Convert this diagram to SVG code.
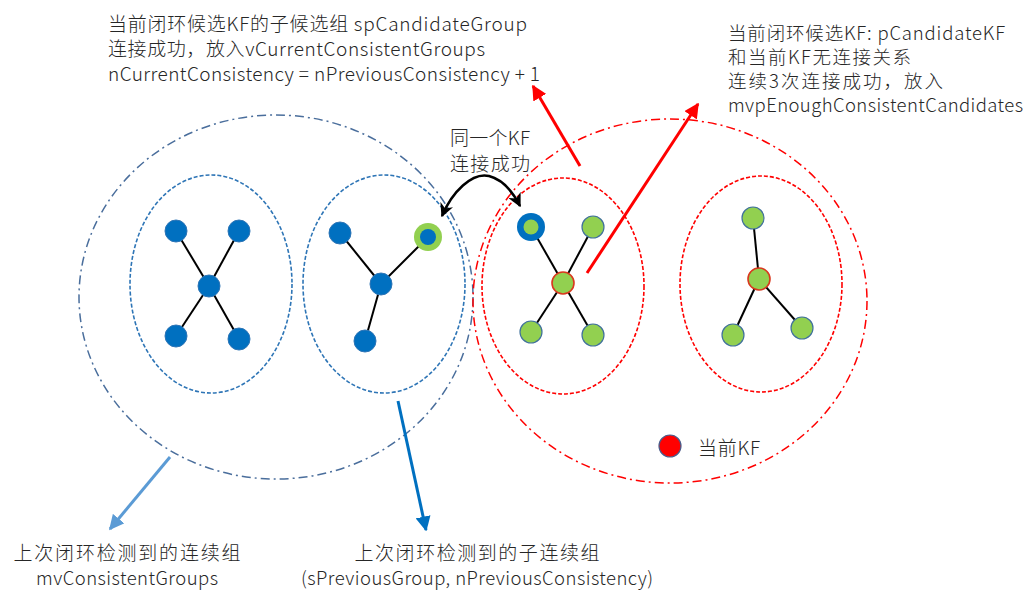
<svg xmlns="http://www.w3.org/2000/svg" width="1034" height="598" viewBox="0 0 1034 598">
<defs>
<style>
.t{font-family:"Noto Sans CJK SC","Noto Sans",sans-serif;fill:#262626;font-weight:300;}
.big{fill:none;stroke-width:1.5;stroke-dasharray:9 4 2 4;}
.inner{fill:none;stroke-width:1.6;stroke-dasharray:4 2;}
.edge{stroke:#000;stroke-width:2;}
.bn{fill:#0070C0;stroke:#2E75B6;stroke-width:1;}
.gn{fill:#92D050;stroke:#41719C;stroke-width:1.2;}
.cn{fill:#92D050;stroke:#D9381E;stroke-width:1.6;}
</style>
<marker id="ar" viewBox="0 0 10 10" refX="9" refY="5" markerWidth="5" markerHeight="5" orient="auto" markerUnits="strokeWidth"><path d="M0,0 L10,5 L0,10 z" fill="#FF0000"/></marker>
<marker id="ab" viewBox="0 0 10 10" refX="9" refY="5" markerWidth="5" markerHeight="5" orient="auto" markerUnits="strokeWidth"><path d="M0,0 L10,5 L0,10 z" fill="#0070C0"/></marker>
<marker id="alb" viewBox="0 0 10 10" refX="9" refY="5" markerWidth="5" markerHeight="5" orient="auto" markerUnits="strokeWidth"><path d="M0,0 L10,5 L0,10 z" fill="#5B9BD5"/></marker>
<marker id="ak" viewBox="0 0 10 10" refX="9" refY="5" markerWidth="5.5" markerHeight="5.5" orient="auto-start-reverse" markerUnits="strokeWidth"><path d="M0,0 L10,5 L0,10 L3,5 z" fill="#000"/></marker>
</defs>
<rect width="1034" height="598" fill="#fff"/>

<g id="groups">
<ellipse id="prev-groups" class="big" cx="276" cy="297" rx="197" ry="182" stroke="#4A6E9C"/>
<ellipse id="cand-groups" class="big" cx="670" cy="301" rx="197" ry="182" stroke="#FF0000"/>
<ellipse id="sub1" class="inner" cx="211" cy="284" rx="81" ry="109" stroke="#2E75B6"/>
<ellipse id="sub2" class="inner" cx="384" cy="284" rx="81" ry="109" stroke="#2E75B6"/>
<ellipse id="sub3" class="inner" cx="563" cy="286" rx="81" ry="108" stroke="#FF0000"/>
<ellipse id="sub4" class="inner" cx="761" cy="284" rx="81" ry="108" stroke="#FF0000"/>
</g>

<g id="edges">
<line class="edge" x1="209" y1="286" x2="176" y2="231"/>
<line class="edge" x1="209" y1="286" x2="239" y2="231"/>
<line class="edge" x1="209" y1="286" x2="176" y2="336"/>
<line class="edge" x1="209" y1="286" x2="239" y2="339"/>
<line class="edge" x1="381" y1="284" x2="340" y2="233"/>
<line class="edge" x1="381" y1="284" x2="428" y2="237"/>
<line class="edge" x1="381" y1="284" x2="365" y2="341"/>
<line class="edge" x1="563" y1="283" x2="531" y2="227"/>
<line class="edge" x1="563" y1="283" x2="593" y2="227"/>
<line class="edge" x1="563" y1="283" x2="531" y2="332"/>
<line class="edge" x1="563" y1="283" x2="593" y2="335"/>
<line class="edge" x1="759" y1="279" x2="753" y2="218"/>
<line class="edge" x1="759" y1="279" x2="733" y2="335"/>
<line class="edge" x1="759" y1="279" x2="802" y2="328"/>
</g>

<g id="group1">
<circle class="bn" cx="176" cy="231" r="11"/>
<circle class="bn" cx="239" cy="231" r="11"/>
<circle class="bn" cx="209" cy="286" r="11"/>
<circle class="bn" cx="176" cy="336" r="11"/>
<circle class="bn" cx="239" cy="339" r="11"/>
</g>
<g id="group2">
<circle class="bn" cx="340" cy="233" r="11"/>
<circle cx="428" cy="237" r="14" fill="#92D050"/>
<circle cx="428" cy="237" r="8" fill="#0070C0"/>
<circle class="bn" cx="381" cy="284" r="11"/>
<circle class="bn" cx="365" cy="341" r="11"/>
</g>
<g id="group3">
<circle cx="531" cy="227" r="14" fill="#0070C0"/>
<circle cx="531" cy="227" r="7.5" fill="#92D050"/>
<circle class="gn" cx="593" cy="227" r="11"/>
<circle class="cn" cx="563" cy="283" r="11"/>
<circle class="gn" cx="531" cy="332" r="11"/>
<circle class="gn" cx="593" cy="335" r="11"/>
</g>
<g id="group4">
<circle class="gn" cx="753" cy="218" r="11"/>
<circle class="cn" cx="759" cy="279" r="11"/>
<circle class="gn" cx="733" cy="335" r="11"/>
<circle class="gn" cx="802" cy="328" r="11"/>
</g>

<g id="connectors" fill="none">
<line x1="580" y1="166" x2="533" y2="86" stroke="#FF0000" stroke-width="3" marker-end="url(#ar)"/>
<line x1="587" y1="273" x2="698" y2="104" stroke="#FF0000" stroke-width="3" marker-end="url(#ar)"/>
<line x1="398" y1="401" x2="426" y2="530" stroke="#0070C0" stroke-width="3" marker-end="url(#ab)"/>
<line x1="170" y1="457" x2="110" y2="529" stroke="#5B9BD5" stroke-width="3" marker-end="url(#alb)"/>
<path d="M442,216 C452,192 472,172 489,176 C504,180 514,194 520,206" stroke="#000" stroke-width="2.5" marker-start="url(#ak)" marker-end="url(#ak)"/>
</g>

<g id="legend">
<circle cx="670" cy="446" r="11" fill="#FF0000" stroke="#4A5D8C" stroke-width="1.2"/>
<text class="t" x="698" y="455" font-size="19" textLength="62">当前KF</text>
</g>

<g id="labels">
<text class="t" x="108" y="31" font-size="19" textLength="419">当前闭环候选KF的子候选组 spCandidateGroup</text>
<text class="t" x="108" y="56" font-size="19" textLength="377">连接成功，放入vCurrentConsistentGroups</text>
<text class="t" x="108" y="81" font-size="19" textLength="432">nCurrentConsistency = nPreviousConsistency + 1</text>
<text class="t" x="728" y="40" font-size="18.5" textLength="277">当前闭环候选KF: pCandidateKF</text>
<text class="t" x="728" y="64" font-size="18.5" textLength="183">和当前KF无连接关系</text>
<text class="t" x="728" y="88" font-size="18.5" textLength="215">连续3次连接成功，放入</text>
<text class="t" x="728" y="112" font-size="18.5" textLength="295">mvpEnoughConsistentCandidates</text>
<text class="t" x="490" y="145" font-size="19" text-anchor="middle" textLength="80">同一个KF</text>
<text class="t" x="490" y="171" font-size="19" text-anchor="middle" textLength="80">连接成功</text>
<text class="t" x="127" y="560" font-size="19" text-anchor="middle" textLength="227">上次闭环检测到的连续组</text>
<text class="t" x="127" y="585" font-size="18.5" text-anchor="middle" textLength="182">mvConsistentGroups</text>
<text class="t" x="477" y="560" font-size="19" text-anchor="middle" textLength="245">上次闭环检测到的子连续组</text>
<text class="t" x="477" y="585" font-size="18.5" text-anchor="middle" textLength="352">(sPreviousGroup, nPreviousConsistency)</text>
</g>
</svg>
